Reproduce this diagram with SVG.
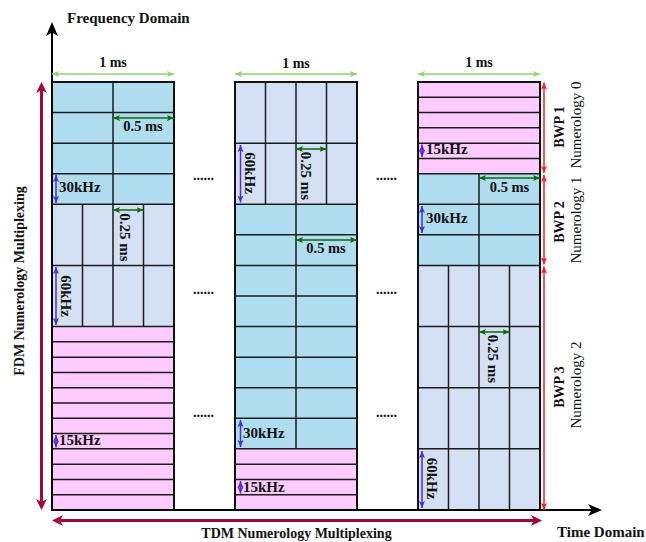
<svg xmlns="http://www.w3.org/2000/svg" width="646" height="542" viewBox="0 0 646 542">
<style>
text{font-family:"Liberation Serif","Times New Roman",serif;fill:#111}
.b{font-weight:bold}
.t14{font-size:14px}
.t15{font-size:15px}
.blue{fill:#b0dcef}
.lav{fill:#d3dff3}
.pink{fill:#fdcbfd}
.g{stroke:#1c1c1c;stroke-width:1.5;fill:none}
.outer{stroke:#111;stroke-width:2;fill:none}
.ax{stroke:#000;stroke-width:2;fill:none}
.crim{stroke:#a3063f;stroke-width:3;fill:none}
.lg{stroke:#92d36e;stroke-width:1.5;fill:none}
.dg{stroke:#0b6b0b;stroke-width:1.5;fill:none}
.bl{stroke:#4b2fd4;stroke-width:1.5;fill:none}
.rd{stroke:#ff1a1a;stroke-width:1.5;fill:none}
</style>
<defs>
<marker id="mk-black" viewBox="0 -6.5 14.5 13" markerWidth="14.5" markerHeight="13" refX="6" refY="0" orient="auto-start-reverse" markerUnits="userSpaceOnUse"><path d="M0,-6 L14,0 L0,6 L3.5,0 Z" fill="#000"/></marker>
<marker id="mk-crim" viewBox="0 -6 11.5 12" markerWidth="11.5" markerHeight="12" refX="5" refY="0" orient="auto-start-reverse" markerUnits="userSpaceOnUse"><path d="M0,-5.5 L11,0 L0,5.5 L3,0 Z" fill="#a3063f"/></marker>
<marker id="mk-lg" viewBox="0 -3.5 7.5 7" markerWidth="7.5" markerHeight="7" refX="7" refY="0" orient="auto-start-reverse" markerUnits="userSpaceOnUse"><path d="M0,-3 L7,0 L0,3 L1.5,0 Z" fill="#92d36e"/></marker>
<marker id="mk-dg" viewBox="0 -3.5 7.5 7" markerWidth="7.5" markerHeight="7" refX="7" refY="0" orient="auto-start-reverse" markerUnits="userSpaceOnUse"><path d="M0,-3 L7,0 L0,3 L1.5,0 Z" fill="#0b6b0b"/></marker>
<marker id="mk-bl" viewBox="0 -3.5 7.5 7" markerWidth="7.5" markerHeight="7" refX="7" refY="0" orient="auto-start-reverse" markerUnits="userSpaceOnUse"><path d="M0,-3 L7,0 L0,3 L1.5,0 Z" fill="#4b2fd4"/></marker>
<marker id="mk-rd" viewBox="0 -3.5 7.5 7" markerWidth="7.5" markerHeight="7" refX="7" refY="0" orient="auto-start-reverse" markerUnits="userSpaceOnUse"><path d="M0,-3 L7,0 L0,3 L1.5,0 Z" fill="#ff1a1a"/></marker>
</defs>
<rect width="646" height="542" fill="#fff"/>

<g id="col1">
<rect class="blue" x="52" y="82" width="122" height="122.29"/>
<rect class="lav" x="52" y="204.29" width="122" height="122.28"/>
<rect class="pink" x="52" y="326.57" width="122" height="183.43"/>
<path class="g" d="M52,112.57H174M52,143.14H174M52,173.71H174M52,204.29H174M113,82V204.29
M52,265.43H174M52,326.57H174M82.5,204.29V326.57M113,204.29V326.57M143.5,204.29V326.57
M52,341.86H174M52,357.14H174M52,372.43H174M52,387.71H174M52,403H174M52,418.29H174M52,433.57H174M52,448.86H174M52,464.14H174M52,479.43H174M52,494.71H174"/>
<rect class="outer" x="52" y="82" width="122" height="428"/>
</g>

<g id="col2">
<rect class="lav" x="235" y="82" width="122" height="122.29"/>
<rect class="blue" x="235" y="204.29" width="122" height="244.57"/>
<rect class="pink" x="235" y="448.86" width="122" height="61.14"/>
<path class="g" d="M235,143.14H357M265.5,82V204.29M296,82V204.29M326.5,82V204.29M235,204.29H357
M235,234.86H357M235,265.43H357M235,296H357M235,326.57H357M235,357.14H357M235,387.71H357M235,418.29H357M235,448.86H357M296,204.29V448.86
M235,464.14H357M235,479.43H357M235,494.71H357"/>
<rect class="outer" x="235" y="82" width="122" height="428"/>
</g>

<g id="col3">
<rect class="pink" x="418" y="82" width="122" height="91.71"/>
<rect class="blue" x="418" y="173.71" width="122" height="91.72"/>
<rect class="lav" x="418" y="265.43" width="122" height="244.57"/>
<path class="g" d="M418,97.29H540M418,112.57H540M418,127.86H540M418,143.14H540M418,158.43H540M418,173.71H540
M418,204.29H540M418,234.86H540M418,265.43H540M479,173.71V265.43
M418,326.57H540M418,387.71H540M418,448.86H540M448.5,265.43V510M479,265.43V510M509.5,265.43V510"/>
<rect class="outer" x="418" y="82" width="122" height="428"/>
</g>

<g id="connectors">
<path class="ax" d="M52,510V30" marker-end="url(#mk-black)"/>
<path class="ax" d="M52,510H594" marker-end="url(#mk-black)"/>
<path class="crim" d="M41.5,88V504" marker-start="url(#mk-crim)" marker-end="url(#mk-crim)"/>
<path class="crim" d="M58,520.5H536" marker-start="url(#mk-crim)" marker-end="url(#mk-crim)"/>
<path class="lg" d="M52,74H174" marker-start="url(#mk-lg)" marker-end="url(#mk-lg)"/>
<path class="lg" d="M235,74H357" marker-start="url(#mk-lg)" marker-end="url(#mk-lg)"/>
<path class="lg" d="M418,74H540" marker-start="url(#mk-lg)" marker-end="url(#mk-lg)"/>
<path class="dg" d="M113,118H174" marker-start="url(#mk-dg)" marker-end="url(#mk-dg)"/>
<path class="dg" d="M113,210H143.5" marker-start="url(#mk-dg)" marker-end="url(#mk-dg)"/>
<path class="dg" d="M296,149H326.5" marker-start="url(#mk-dg)" marker-end="url(#mk-dg)"/>
<path class="dg" d="M296,240H357" marker-start="url(#mk-dg)" marker-end="url(#mk-dg)"/>
<path class="dg" d="M479,178H540" marker-start="url(#mk-dg)" marker-end="url(#mk-dg)"/>
<path class="dg" d="M479,332H509.5" marker-start="url(#mk-dg)" marker-end="url(#mk-dg)"/>
<path class="bl" d="M56,175V203" marker-start="url(#mk-bl)" marker-end="url(#mk-bl)"/>
<path class="bl" d="M56,267V325" marker-start="url(#mk-bl)" marker-end="url(#mk-bl)"/>
<path class="bl" d="M56,435V447.5" marker-start="url(#mk-bl)" marker-end="url(#mk-bl)"/>
<path class="bl" d="M240.5,145V202.5" marker-start="url(#mk-bl)" marker-end="url(#mk-bl)"/>
<path class="bl" d="M240.5,420V447" marker-start="url(#mk-bl)" marker-end="url(#mk-bl)"/>
<path class="bl" d="M240.5,481V493.5" marker-start="url(#mk-bl)" marker-end="url(#mk-bl)"/>
<path class="bl" d="M422,144.5V157" marker-start="url(#mk-bl)" marker-end="url(#mk-bl)"/>
<path class="bl" d="M422,206V233" marker-start="url(#mk-bl)" marker-end="url(#mk-bl)"/>
<path class="bl" d="M422,451V508" marker-start="url(#mk-bl)" marker-end="url(#mk-bl)"/>
<path class="rd" d="M544,82.5V173" marker-start="url(#mk-rd)" marker-end="url(#mk-rd)"/>
<path class="rd" d="M544,175V264.5" marker-start="url(#mk-rd)" marker-end="url(#mk-rd)"/>
<path class="rd" d="M544,266.5V510" marker-start="url(#mk-rd)" marker-end="url(#mk-rd)"/>
</g>

<g id="labels">
<text class="b t15" x="67" y="22.5">Frequency Domain</text>
<text class="b t15" x="557" y="537">Time Domain</text>
<text class="b t14" x="296.5" y="538" text-anchor="middle">TDM Numerology Multiplexing</text>
<text class="b t14" text-anchor="middle" transform="translate(23.5,281) rotate(-90)">FDM Numerology Multiplexing</text>
<text class="b t14" x="113" y="67" text-anchor="middle">1 ms</text>
<text class="b t14" x="296" y="67.5" text-anchor="middle">1 ms</text>
<text class="b t14" x="479" y="67" text-anchor="middle">1 ms</text>
<text class="b t14" x="143" y="131" text-anchor="middle" style="font-size:14.5px">0.5 ms</text>
<text class="b t14" x="326" y="253" text-anchor="middle" style="font-size:14.5px">0.5 ms</text>
<text class="b t14" x="509.5" y="192" text-anchor="middle" style="font-size:14.5px">0.5 ms</text>
<text class="b t15" text-anchor="middle" transform="translate(120,237.5) rotate(90)">0.25 ms</text>
<text class="b t15" text-anchor="middle" transform="translate(301,176) rotate(90)">0.25 ms</text>
<text class="b t15" text-anchor="middle" transform="translate(487.5,359) rotate(90)">0.25 ms</text>
<text class="b t15" text-anchor="middle" transform="translate(61,296) rotate(90)">60kHz</text>
<text class="b t15" text-anchor="middle" transform="translate(245,173) rotate(90)">60kHz</text>
<text class="b t15" text-anchor="middle" transform="translate(427,478.5) rotate(90)">60kHz</text>
<text class="b t15" x="59" y="192">30kHz</text>
<text class="b t15" x="243" y="438">30kHz</text>
<text class="b t15" x="426" y="223">30kHz</text>
<text class="b t15" x="59" y="445">15kHz</text>
<text class="b t15" x="243" y="492">15kHz</text>
<text class="b t15" x="426" y="154">15kHz</text>
<text class="b t14" text-anchor="middle" transform="translate(564,127) rotate(-90)">BWP 1</text>
<text class="b t14" text-anchor="middle" transform="translate(564,222) rotate(-90)">BWP 2</text>
<text class="b t14" text-anchor="middle" transform="translate(564,387) rotate(-90)">BWP 3</text>
<text class="t15" text-anchor="middle" transform="translate(581,125) rotate(-90)">Numerology 0</text>
<text class="t15" text-anchor="middle" transform="translate(581,220) rotate(-90)">Numerology 1</text>
<text class="t15" text-anchor="middle" transform="translate(581,385) rotate(-90)">Numerology 2</text>
<text class="b t14" x="193" y="179.5">......</text>
<text class="b t14" x="193" y="293.5">......</text>
<text class="b t14" x="193" y="416.5">......</text>
<text class="b t14" x="376" y="179.5">......</text>
<text class="b t14" x="376" y="293.5">......</text>
<text class="b t14" x="376" y="416.5">......</text>
</g>
</svg>
